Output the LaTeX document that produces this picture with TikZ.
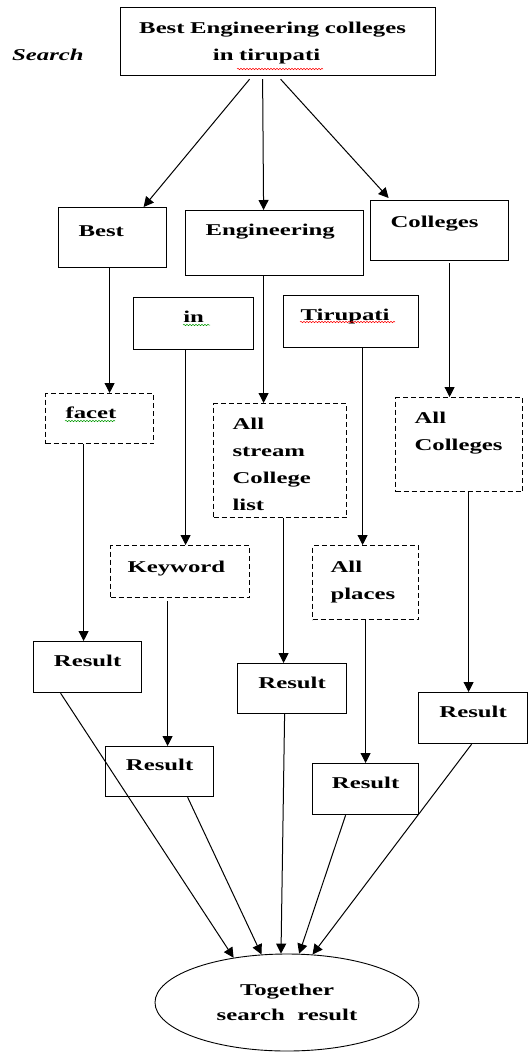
\documentclass[tikz,border=0pt]{standalone}
\usepackage{fontspec}
\setmainfont{Liberation Serif}[FakeStretch=1.5]
\usetikzlibrary{arrows.meta, shapes.geometric, decorations.pathmorphing}

\begin{document}
\begin{tikzpicture}[
  x=1pt, y=-1pt,
  font=\bfseries\fontsize{16.5pt}{27pt}\selectfont,
  box/.style={draw, line width=1.2pt, anchor=north west, inner ysep=0pt,
              inner xsep=20pt, align=left, text height=25pt},
  dbox/.style={box, dash pattern=on 5pt off 3pt},
  res/.style={box, align=center, inner xsep=10pt, text width=88pt,
              text depth=26pt},
  arr/.style={-{Triangle[length=10pt,width=10pt]}, line width=1pt},
  squig/.style={line width=0.5pt, decorate,
                decoration={snake, amplitude=0.7pt, segment length=3pt}}
]
\useasboundingbox (0,0) rectangle (529,1052);

% query and its words
\node[box, align=center, inner xsep=10pt, text width=295pt, text height=26pt,
      text depth=42pt] (query) at (120,7)
      {Best Engineering colleges\rule{11pt}{0pt}\\in tirupati\rule{23pt}{0pt}};
\node[anchor=base west, inner sep=0pt,
      font=\bfseries\itshape\fontsize{16.5pt}{27pt}\selectfont] (search) at (12,60) {Search};
\node[box, text width=68pt, text height=29pt, text depth=31pt] (wbest) at (58,207) {Best};
\node[box, text width=138pt, text depth=40pt] (weng) at (185,210) {Engineering};
\node[box, text width=98pt, text height=27pt, text depth=33pt] (wcoll) at (370,200) {Colleges};
\node[box, align=center, inner xsep=10pt, text width=100pt, text depth=27pt] (win) at (133,297) {in};
\node[box, inner xsep=17pt, text width=101pt, text depth=27pt] (wtir) at (283,295) {Tirupati};

% what each word stands for
\node[dbox, text width=68pt, text depth=25pt] (facet) at (45,393) {facet};
\node[dbox, inner xsep=19pt, text width=95pt, text height=26pt,
      text depth=88pt] (stream) at (213,403) {All\\stream\\College\\list};
\node[dbox, inner xsep=19pt, text width=89pt, text height=26pt,
      text depth=68pt] (allcoll) at (395,397) {All\\Colleges};
\node[dbox, inner xsep=17pt, text width=105pt, text height=27pt,
      text depth=25pt] (kw) at (110,545) {Keyword};
\node[dbox, inner xsep=18pt, text width=70pt, text height=27pt,
      text depth=47pt] (places) at (312,545) {All\\places};

% results
\node[res] (res1) at (33,641) {Result};
\node[res, text height=24pt] (res2) at (105,746) {Result};
\node[res, text width=89pt, text depth=25pt] (res3) at (237,663) {Result};
\node[res, text width=86pt] (res4) at (312,763) {Result};
\node[res, text width=89pt] (res5) at (418,692) {Result};
\node[draw, ellipse, line width=0.9pt, minimum width=264pt, minimum height=97pt,
      inner sep=0pt, align=center,
      font=\bfseries\fontsize{16.5pt}{25pt}\selectfont] (tog) at (287,1002.5)
      {Together\\search\ \ result};

% split the query
\draw[arr] ([xshift=-28.5pt,yshift=-3pt]query.south) -- ([xshift=31pt]wbest.north);
\draw[arr] ([xshift=-15.5pt,yshift=-3pt]query.south) -- ([xshift=-11pt]weng.north);
\draw[arr] ([xshift=2.5pt,yshift=-3pt]query.south) -- ([xshift=-51pt,yshift=2pt]wcoll.north);

% word -> meaning -> result
\draw[arr] ([xshift=-3pt]wbest.south) -- ([xshift=-3pt]wbest.south |- facet.north);
\draw[arr] ([xshift=-11pt]weng.south) -- ([xshift=-11pt]weng.south |- stream.north);
\draw[arr] ([xshift=10pt,yshift=-2pt]wcoll.south) -- ([xshift=10pt]wcoll.south |- allcoll.north);
\draw[arr] ([xshift=-8pt]win.south) -- ([xshift=-8pt]win.south |- kw.north);
\draw[arr] ([xshift=11.5pt]wtir.south) -- ([xshift=11.5pt]wtir.south |- places.north);
\draw[arr] ([xshift=-16pt]facet.south) -- ([xshift=-16pt]facet.south |- res1.north);
\draw[arr] ([xshift=3.5pt]stream.south) -- ([xshift=3.5pt]stream.south |- res3.north);
\draw[arr] ([xshift=9.5pt]allcoll.south) -- ([xshift=9.5pt]allcoll.south |- res5.north);
\draw[arr] ([xshift=-12.5pt,yshift=-3pt]kw.south) -- ([xshift=-12.5pt]kw.south |- res2.north);
\draw[arr] (places.south) -- (places.south |- res4.north);

% merge
\draw[arr] ([xshift=-27pt]res1.south) -- (tog.140);
\draw[arr] ([xshift=28pt]res2.south) -- (tog.118);
\draw[arr] ([xshift=-7.5pt]res3.south) -- (tog.97);
\draw[arr] ([xshift=-20pt]res4.south) -- (tog.76);
\draw[arr] ([xshift=-1.5pt]res5.south) -- (tog.62);

% spell-check marks
\draw[squig, red] ([shift={(117,62)}]query.north west) -- ([shift={(203,62)}]query.north west);
\draw[squig, red] ([shift={(17,27)}]wtir.north west) -- ([shift={(112,27)}]wtir.north west);
\draw[squig, green!60!black] ([shift={(50,28)}]win.north west) -- ([shift={(77,28)}]win.north west);
\draw[squig, green!60!black] ([shift={(20,28)}]facet.north west) -- ([shift={(70,28)}]facet.north west);
\end{tikzpicture}
\end{document}
